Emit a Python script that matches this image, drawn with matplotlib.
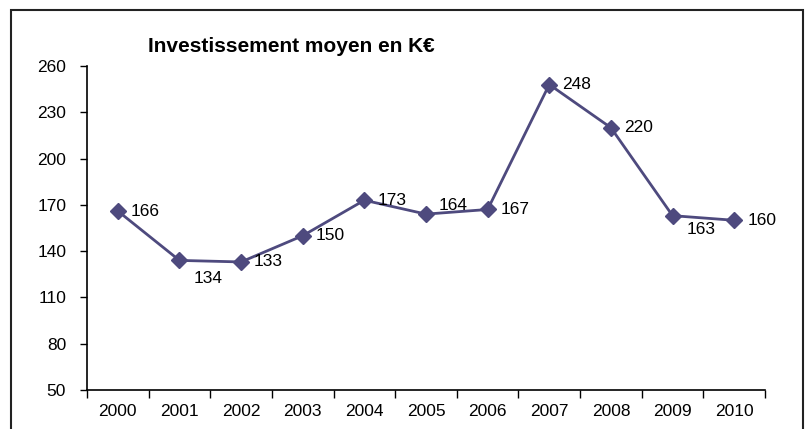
import numpy as np
import matplotlib
matplotlib.use('Agg')
import matplotlib.pyplot as plt
from matplotlib.patches import Rectangle

plt.rcParams['font.family'] = ['Liberation Sans', 'DejaVu Sans']

annees = ['2000', '2001', '2002', '2003', '2004', '2005', '2006', '2007', '2008', '2009', '2010']
valeurs = [166, 134, 133, 150, 173, 164, 167, 248, 220, 163, 160]
yticks = [50, 80, 110, 140, 170, 200, 230, 260]
# decalage des etiquettes en pixels
decal = {1: (14, -18), 5: (13, 9), 9: (14, -14)}

couleur = '#4E4A7E'

fig = plt.figure(figsize=(8.11, 4.29), dpi=100)
ax = fig.add_axes([87/811, 39/429, 678/811, 324/429])

x = np.arange(len(annees))
ax.plot(x, valeurs, color=couleur, linewidth=2, marker='D', markersize=8, zorder=3)

for i, v in enumerate(valeurs):
    dx, dy = decal.get(i, (13, 0))
    ax.annotate(str(v), (x[i], v), xytext=(dx, dy), textcoords='offset pixels',
                ha='left', va='center', fontsize=12.5, color='black')

ax.set_xlim(-0.5, len(annees) - 0.5)
ax.set_ylim(50, 260)
ax.set_yticks(yticks)
ax.set_xticks(np.arange(-0.5, len(annees)), labels=[''] * (len(annees) + 1))
ax.set_xticks(x, labels=annees, minor=True)
ax.tick_params(axis='x', which='major', length=6, width=1, direction='out')
ax.tick_params(axis='x', which='minor', length=0, pad=10, labelsize=12.5)
ax.tick_params(axis='y', length=5, width=1, direction='out', labelsize=12.5, pad=10)

for s in ['top', 'right']:
    ax.spines[s].set_visible(False)
ax.spines['left'].set_linewidth(1.2)
ax.spines['bottom'].set_linewidth(1.2)

fig.text(148/811, 1 - 47/429, 'Investissement moyen en K€', fontsize=15,
         fontweight='bold', ha='left', va='center')

cadre = Rectangle((11/811, -0.2), 792/811, 1.2 - 10/429, transform=fig.transFigure,
                  fill=False, edgecolor='#222222', linewidth=1.5)
fig.patches.append(cadre)

fig.savefig('out.png', dpi=100)
